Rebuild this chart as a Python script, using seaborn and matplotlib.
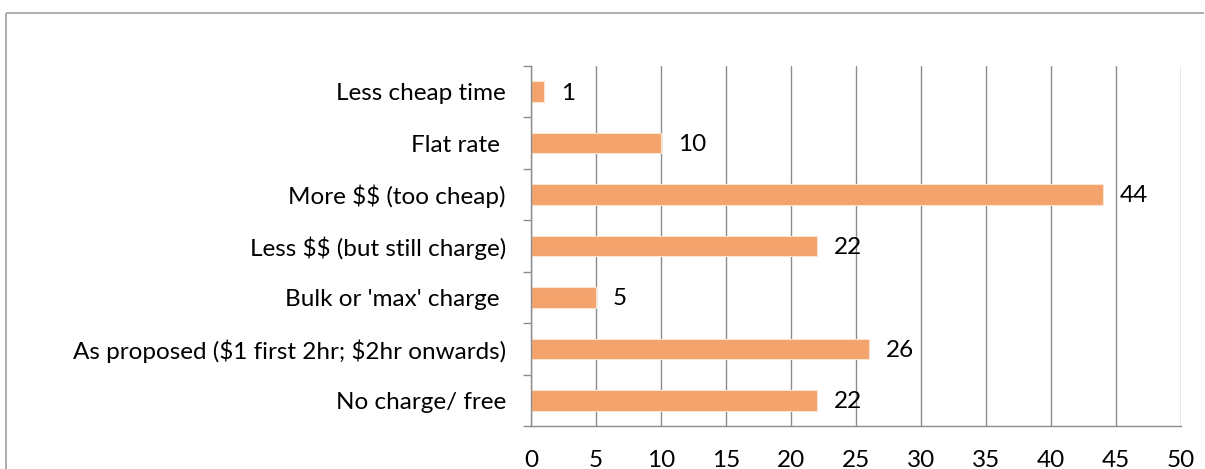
import matplotlib
matplotlib.use("Agg")
import matplotlib.pyplot as plt
import seaborn as sns
from matplotlib.lines import Line2D

categories = [
    "Less cheap time",
    "Flat rate ",
    "More $$ (too cheap)",
    "Less $$ (but still charge)",
    "Bulk or 'max' charge ",
    "As proposed ($1 first 2hr; $2hr onwards)",
    "No charge/ free",
]
values = [1, 10, 44, 22, 5, 26, 22]
x_ticks = [0, 5, 10, 15, 20, 25, 30, 35, 40, 45, 50]

bar_color = "#F3A36B"
grid_color = "#8C8C8C"
fs = 17.5

sns.set_style("white")
plt.rcParams["font.family"] = ["Lato", "DejaVu Sans"]

fig = plt.figure(figsize=(12.05, 4.69), dpi=100)
ax = fig.add_axes([531 / 1205, 1 - 426 / 469, 650 / 1205, 360 / 469])

sns.barplot(x=values, y=categories, orient="h", color=bar_color,
            width=0.4, saturation=1, edgecolor="#FBE3D2", linewidth=0.8, ax=ax)

ax.set_xlim(0, 50)
ax.set_ylim(len(categories) - 0.5, -0.5)
ax.set_xticks(x_ticks)
ax.set_xticklabels([str(t) for t in x_ticks], fontsize=fs)
ax.set_yticks(range(len(categories)))
ax.set_yticklabels([c.replace("$", r"\$") for c in categories], fontsize=fs)
ax.set_yticks([i - 0.5 for i in range(len(categories) + 1)], minor=True)
ax.set_xlabel("")
ax.set_ylabel("")

ax.xaxis.grid(True, color=grid_color, linewidth=1)
ax.yaxis.grid(False)
ax.set_axisbelow(True)
for side in ["top", "right"]:
    ax.spines[side].set_visible(False)
for side in ["left", "bottom"]:
    ax.spines[side].set_color(grid_color)
    ax.spines[side].set_linewidth(1)

ax.tick_params(axis="x", which="major", length=5.5, width=1, color=grid_color,
               direction="out", pad=12, labelcolor="black")
ax.tick_params(axis="y", which="major", length=0, pad=18, labelcolor="black")
ax.tick_params(axis="y", which="minor", length=6, width=1, color=grid_color,
               direction="out", left=True)

for i, v in enumerate(values):
    ax.annotate(str(v), xy=(v, i), xytext=(12, -1), textcoords="offset points",
                ha="left", va="center", fontsize=fs, color="black")

# outer chart border (only top and left edges fall inside the crop)
bx, by = 6 / 1205, 1 - 13 / 469
fig.add_artist(Line2D([bx, 0.999], [by, by], transform=fig.transFigure,
                      color="#A0A0A0", linewidth=1.2, solid_capstyle="butt"))
fig.add_artist(Line2D([bx, bx], [0.0, by], transform=fig.transFigure,
                      color="#A0A0A0", linewidth=1.2, solid_capstyle="butt"))

fig.savefig("out.png", dpi=100)
